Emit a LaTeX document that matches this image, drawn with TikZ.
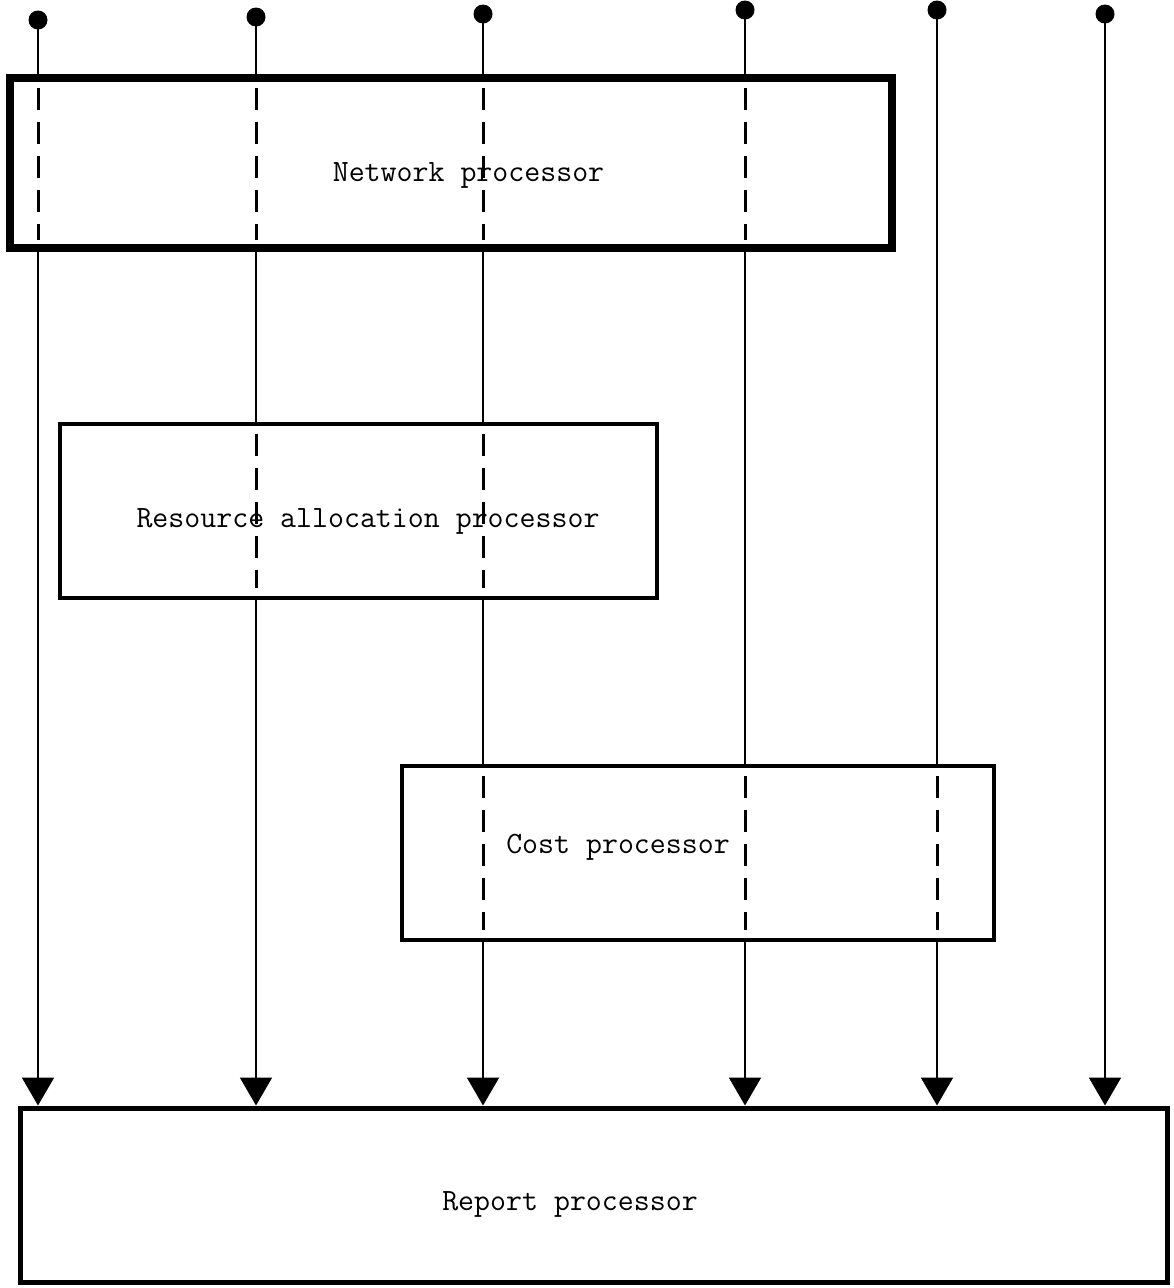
\documentclass[tikz,border=0pt]{standalone}
\usetikzlibrary{arrows.meta}
\begin{document}
\begin{tikzpicture}[x=1pt,y=-1pt,
  procbox/.style={draw=black,fill=white,rectangle,inner sep=0pt,line join=miter},
  proclabel/.style={font=\ttfamily\fontsize{31}{34}\selectfont,inner sep=0pt,anchor=center},
  flow/.style={line width=2pt,-{Triangle[width=32pt,length=28pt]}},
  inside/.style={line width=3pt,dash pattern=on 22pt off 12pt},
  pin/.style={circle,fill=black,inner sep=0pt,minimum size=19pt}]
\useasboundingbox (0,0) rectangle (1173,1288);

% signal sources along the top
\coordinate (s1) at (38,20);
\coordinate (s2) at (256,17);
\coordinate (s3) at (483,14);
\coordinate (s4) at (745,10);
\coordinate (s5) at (937,10);
\coordinate (s6) at (1105,14);

% report processor, receiving every flow
\node[procbox,line width=5pt,minimum width=1147pt,minimum height=174pt] (report) at (593.5,1195) {};

% vertical flows into the report processor
\foreach \s in {s1,s2,s3,s4,s5,s6}{
  \draw[flow] (\s) -- (\s |- report.north);
  \node[pin] (\s pin) at (\s) {};
}

% processors the flows pass through
\node[procbox,line width=8pt,minimum width=882pt,minimum height=170pt] (net) at (451,163) {};
\node[procbox,line width=4pt,minimum width=597pt,minimum height=174pt] (res) at (358.5,511) {};
\node[procbox,line width=4pt,minimum width=592pt,minimum height=174pt] (cost) at (698,853) {};

% flows shown dashed where they cross a processor
\foreach \s in {s1,s2,s3,s4}{
  \draw[inside] ([yshift=-14pt]\s |- net.north) -- ([yshift=12pt]\s |- net.south);
}
\foreach \s in {s2,s3}{
  \draw[inside] ([yshift=-12pt]\s |- res.north) -- ([yshift=12pt]\s |- res.south);
}
\foreach \s in {s3,s4,s5}{
  \draw[inside] ([yshift=-12pt]\s |- cost.north) -- ([yshift=12pt]\s |- cost.south);
}

% processor names
\node[proclabel] (netlbl) at (468.5,175) {Network processor};
\node[proclabel] (reslbl) at (368,521) {Resource allocation processor};
\node[proclabel] (costlbl) at (618,847) {Cost processor};
\node[proclabel] (replbl) at (570,1204) {Report processor};
\end{tikzpicture}
\end{document}
